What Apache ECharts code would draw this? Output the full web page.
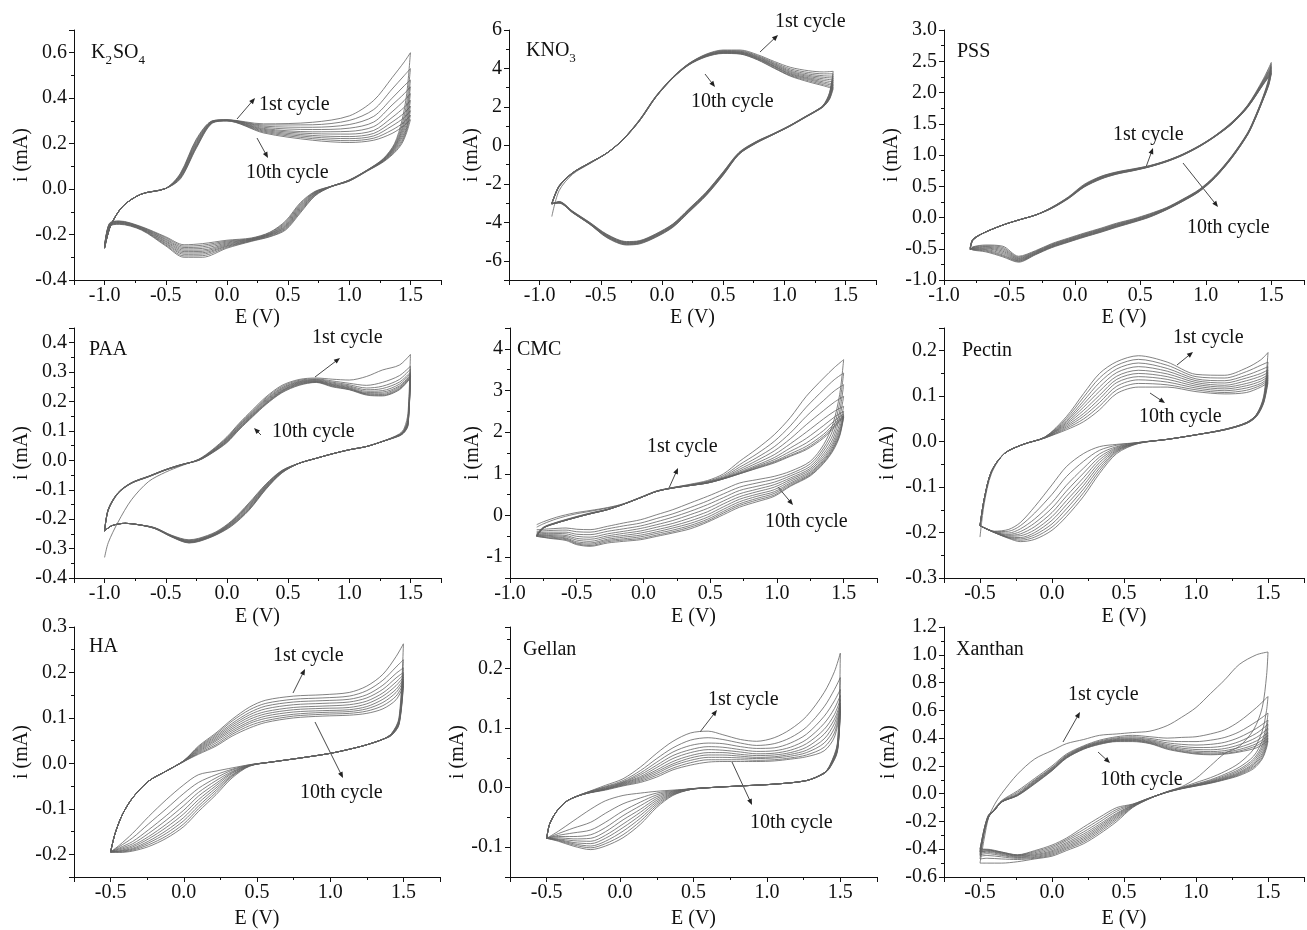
<!DOCTYPE html>
<html>
<head>
<meta charset="utf-8">
<title>CV cycles</title>
<script src="https://cdn.jsdelivr.net/npm/echarts@6/dist/echarts.min.js"></script>
<style>
  html, body { margin: 0; padding: 0; background: #fff; }
  #chart { width: 1307px; height: 930px; }
</style>
</head>
<body>
<div id="chart"></div>
<script>
// potential grids (V) and currents (mA); each row = one potential, 10 values = cycles 1..10

// K2SO4
const k2so4FwdE = [-1.0, -0.95, -0.85, -0.7, -0.5, -0.38, -0.25, -0.12, 0.0, 0.3, 0.7, 1.0, 1.2, 1.35, 1.45, 1.5];
const k2so4FwdI = [
  [-0.26,-0.26,-0.26,-0.26,-0.26,-0.255,-0.255,-0.255,-0.25,-0.25],
  [-0.16,-0.16,-0.16,-0.16,-0.16,-0.16,-0.16,-0.16,-0.16,-0.16],
  [-0.075,-0.075,-0.075,-0.075,-0.075,-0.075,-0.075,-0.075,-0.075,-0.075],
  [-0.022,-0.022,-0.022,-0.022,-0.022,-0.022,-0.022,-0.022,-0.022,-0.022],
  [0.003,0.003,0.003,0.003,0.003,0.003,0.003,0.003,0.003,0.003],
  [0.07,0.067,0.064,0.061,0.058,0.056,0.053,0.05,0.048,0.045],
  [0.22,0.215,0.21,0.205,0.2,0.195,0.19,0.187,0.183,0.18],
  [0.30,0.30,0.298,0.297,0.296,0.295,0.294,0.293,0.291,0.29],
  [0.305,0.305,0.304,0.304,0.303,0.302,0.302,0.301,0.30,0.30],
  [0.287,0.282,0.277,0.272,0.267,0.263,0.259,0.255,0.251,0.247],
  [0.294,0.283,0.272,0.262,0.252,0.244,0.236,0.229,0.222,0.215],
  [0.322,0.302,0.284,0.268,0.254,0.242,0.231,0.222,0.213,0.205],
  [0.39,0.35,0.32,0.295,0.275,0.258,0.245,0.234,0.224,0.215],
  [0.49,0.44,0.40,0.37,0.34,0.315,0.295,0.278,0.26,0.245],
  [0.56,0.50,0.455,0.42,0.39,0.36,0.335,0.315,0.295,0.28],
  [0.60,0.53,0.48,0.45,0.42,0.39,0.365,0.345,0.325,0.305]
];
const k2so4RevE = [1.5, 1.47, 1.43, 1.37, 1.28, 1.15, 1.0, 0.85, 0.72, 0.6, 0.48, 0.35, 0.2, 0.0, -0.2, -0.35, -0.5, -0.7, -0.88, -0.96, -1.0];
const k2so4RevI = [
  [0.60,0.53,0.48,0.45,0.42,0.39,0.365,0.345,0.325,0.305],
  [0.42,0.38,0.35,0.33,0.31,0.295,0.28,0.27,0.26,0.25],
  [0.30,0.28,0.265,0.255,0.245,0.235,0.225,0.215,0.207,0.20],
  [0.20,0.195,0.19,0.186,0.182,0.178,0.174,0.17,0.165,0.16],
  [0.135,0.133,0.131,0.13,0.128,0.126,0.125,0.123,0.122,0.12],
  [0.085,0.085,0.084,0.084,0.083,0.083,0.082,0.082,0.081,0.08],
  [0.04,0.04,0.039,0.039,0.038,0.038,0.037,0.036,0.036,0.035],
  [0.012,0.012,0.012,0.011,0.011,0.011,0.011,0.01,0.01,0.01],
  [-0.01,-0.012,-0.014,-0.016,-0.018,-0.021,-0.023,-0.025,-0.028,-0.03],
  [-0.06,-0.065,-0.07,-0.075,-0.08,-0.085,-0.09,-0.095,-0.1,-0.105],
  [-0.14,-0.145,-0.15,-0.155,-0.16,-0.164,-0.168,-0.172,-0.176,-0.18],
  [-0.19,-0.192,-0.195,-0.197,-0.199,-0.201,-0.203,-0.205,-0.208,-0.21],
  [-0.215,-0.217,-0.219,-0.22,-0.222,-0.223,-0.225,-0.227,-0.228,-0.23],
  [-0.225,-0.229,-0.233,-0.237,-0.241,-0.245,-0.249,-0.252,-0.256,-0.26],
  [-0.24,-0.247,-0.254,-0.261,-0.268,-0.274,-0.28,-0.286,-0.293,-0.30],
  [-0.245,-0.251,-0.257,-0.263,-0.269,-0.275,-0.281,-0.287,-0.294,-0.30],
  [-0.21,-0.214,-0.219,-0.223,-0.228,-0.232,-0.237,-0.241,-0.246,-0.25],
  [-0.165,-0.167,-0.168,-0.17,-0.172,-0.173,-0.175,-0.177,-0.178,-0.18],
  [-0.14,-0.142,-0.143,-0.145,-0.147,-0.148,-0.15,-0.152,-0.153,-0.155],
  [-0.15,-0.152,-0.153,-0.155,-0.157,-0.158,-0.16,-0.162,-0.163,-0.165],
  [-0.25,-0.25,-0.25,-0.255,-0.255,-0.255,-0.255,-0.26,-0.26,-0.26]
];

// KNO3
const kno3FwdE = [-0.9, -0.84, -0.73, -0.59, -0.45, -0.32, -0.18, -0.05, 0.09, 0.22, 0.36, 0.5, 0.64, 0.78, 0.92, 1.05, 1.2, 1.32, 1.4];
const kno3FwdI = [
  [-3.7,-3.05,-3.05,-3.04,-3.04,-3.03,-3.03,-3.02,-3.02,-3.0],
  [-2.35,-2.15,-2.15,-2.13,-2.12,-2.12,-2.11,-2.1,-2.1,-2.1],
  [-1.5,-1.45,-1.45,-1.44,-1.44,-1.43,-1.43,-1.42,-1.42,-1.42],
  [-0.95,-0.93,-0.93,-0.92,-0.92,-0.91,-0.91,-0.9,-0.9,-0.9],
  [-0.4,-0.4,-0.4,-0.4,-0.4,-0.4,-0.4,-0.4,-0.4,-0.4],
  [0.3,0.3,0.3,0.29,0.29,0.29,0.28,0.28,0.28,0.28],
  [1.36,1.35,1.34,1.33,1.33,1.32,1.31,1.31,1.3,1.3],
  [2.56,2.55,2.54,2.53,2.53,2.52,2.51,2.51,2.5,2.5],
  [3.56,3.55,3.54,3.53,3.53,3.52,3.52,3.51,3.5,3.5],
  [4.26,4.25,4.24,4.23,4.22,4.21,4.2,4.2,4.19,4.18],
  [4.74,4.72,4.7,4.68,4.67,4.66,4.64,4.63,4.62,4.6],
  [4.96,4.93,4.9,4.88,4.86,4.84,4.82,4.81,4.8,4.78],
  [4.96,4.92,4.89,4.86,4.84,4.82,4.8,4.78,4.76,4.75],
  [4.72,4.67,4.63,4.6,4.57,4.54,4.52,4.5,4.47,4.45],
  [4.36,4.3,4.25,4.21,4.17,4.13,4.1,4.07,4.03,4.0],
  [4.06,3.98,3.91,3.85,3.8,3.75,3.71,3.67,3.63,3.6],
  [3.88,3.79,3.71,3.64,3.58,3.52,3.47,3.42,3.36,3.3],
  [3.82,3.72,3.62,3.54,3.46,3.38,3.3,3.23,3.16,3.1],
  [3.85,3.72,3.6,3.5,3.4,3.3,3.2,3.12,3.03,2.95]
];
const kno3RevE = [1.4, 1.37, 1.32, 1.25, 1.18, 1.04, 0.9, 0.77, 0.63, 0.5, 0.36, 0.22, 0.09, -0.05, -0.18, -0.29, -0.45, -0.59, -0.73, -0.84, -0.9];
const kno3RevI = [
  [3.85,3.72,3.6,3.5,3.4,3.3,3.2,3.12,3.03,2.95],
  [2.75,2.7,2.65,2.6,2.56,2.52,2.48,2.45,2.42,2.4],
  [2.1,2.09,2.08,2.07,2.06,2.05,2.04,2.03,2.02,2.01],
  [1.78,1.77,1.77,1.76,1.76,1.75,1.75,1.74,1.74,1.73],
  [1.53,1.52,1.52,1.51,1.51,1.5,1.5,1.49,1.49,1.48],
  [1.02,1.01,1.01,1.0,1.0,0.99,0.99,0.98,0.98,0.97],
  [0.58,0.57,0.56,0.56,0.55,0.55,0.54,0.54,0.53,0.53],
  [0.2,0.19,0.18,0.17,0.16,0.15,0.14,0.13,0.12,0.11],
  [-0.36,-0.38,-0.4,-0.41,-0.42,-0.43,-0.44,-0.45,-0.46,-0.47],
  [-1.38,-1.4,-1.42,-1.44,-1.46,-1.48,-1.5,-1.52,-1.54,-1.56],
  [-2.44,-2.46,-2.48,-2.5,-2.52,-2.54,-2.56,-2.58,-2.6,-2.62],
  [-3.3,-3.32,-3.34,-3.36,-3.38,-3.4,-3.42,-3.44,-3.46,-3.48],
  [-4.08,-4.1,-4.12,-4.14,-4.16,-4.18,-4.2,-4.22,-4.24,-4.26],
  [-4.6,-4.62,-4.64,-4.66,-4.68,-4.7,-4.72,-4.74,-4.76,-4.78],
  [-4.95,-4.97,-4.99,-5.0,-5.02,-5.04,-5.06,-5.08,-5.1,-5.12],
  [-5.0,-5.02,-5.04,-5.06,-5.08,-5.1,-5.12,-5.14,-5.16,-5.18],
  [-4.62,-4.64,-4.66,-4.68,-4.7,-4.72,-4.74,-4.76,-4.78,-4.8],
  [-4.0,-4.02,-4.03,-4.05,-4.06,-4.07,-4.08,-4.09,-4.1,-4.1],
  [-3.42,-3.43,-3.44,-3.45,-3.46,-3.47,-3.48,-3.49,-3.5,-3.5],
  [-2.92,-2.93,-2.94,-2.95,-2.96,-2.97,-2.98,-2.99,-3.0,-3.0],
  [-3.05,-3.05,-3.05,-3.04,-3.04,-3.03,-3.03,-3.02,-3.02,-3.0]
];

// PSS
const pssFwdE = [-0.8, -0.78, -0.7, -0.55, -0.43, -0.3, -0.18, -0.05, 0.07, 0.2, 0.32, 0.45, 0.57, 0.7, 0.82, 0.95, 1.07, 1.2, 1.32, 1.44, 1.5];
const pssFwdI = [
  [-0.52,-0.52,-0.51,-0.51,-0.5,-0.5,-0.5,-0.49,-0.49,-0.49],
  [-0.37,-0.37,-0.36,-0.36,-0.36,-0.36,-0.35,-0.35,-0.35,-0.35],
  [-0.25,-0.25,-0.25,-0.25,-0.25,-0.25,-0.25,-0.25,-0.25,-0.25],
  [-0.12,-0.12,-0.12,-0.12,-0.12,-0.12,-0.12,-0.12,-0.12,-0.12],
  [-0.04,-0.04,-0.04,-0.04,-0.04,-0.04,-0.04,-0.04,-0.04,-0.04],
  [0.04,0.04,0.04,0.04,0.04,0.04,0.04,0.04,0.04,0.04],
  [0.16,0.16,0.155,0.155,0.15,0.15,0.148,0.146,0.144,0.142],
  [0.33,0.325,0.32,0.318,0.315,0.312,0.31,0.308,0.305,0.3],
  [0.53,0.52,0.515,0.51,0.505,0.5,0.497,0.494,0.49,0.485],
  [0.66,0.655,0.65,0.645,0.64,0.635,0.63,0.625,0.62,0.615],
  [0.73,0.725,0.72,0.716,0.712,0.708,0.704,0.7,0.697,0.694],
  [0.78,0.776,0.772,0.768,0.765,0.762,0.759,0.756,0.753,0.75],
  [0.83,0.827,0.824,0.821,0.819,0.817,0.815,0.813,0.811,0.81],
  [0.91,0.908,0.906,0.904,0.902,0.9,0.898,0.896,0.894,0.892],
  [1.01,1.008,1.006,1.004,1.002,1.0,0.998,0.996,0.994,0.992],
  [1.15,1.148,1.146,1.144,1.142,1.14,1.138,1.136,1.134,1.132],
  [1.31,1.308,1.306,1.304,1.302,1.3,1.298,1.296,1.294,1.292],
  [1.53,1.525,1.52,1.516,1.512,1.508,1.505,1.502,1.5,1.498],
  [1.8,1.795,1.79,1.785,1.78,1.776,1.772,1.768,1.765,1.762],
  [2.22,2.2,2.19,2.18,2.17,2.16,2.15,2.14,2.135,2.13],
  [2.48,2.45,2.42,2.4,2.38,2.36,2.34,2.33,2.31,2.3]
];
const pssRevE = [1.5, 1.48, 1.44, 1.38, 1.32, 1.2, 1.07, 0.95, 0.82, 0.7, 0.57, 0.45, 0.32, 0.2, 0.07, -0.05, -0.18, -0.3, -0.43, -0.55, -0.68, -0.78, -0.8];
const pssRevI = [
  [2.48,2.45,2.42,2.4,2.38,2.36,2.34,2.33,2.31,2.3],
  [2.22,2.2,2.18,2.17,2.16,2.15,2.14,2.13,2.12,2.11],
  [1.95,1.94,1.93,1.925,1.92,1.915,1.91,1.905,1.9,1.895],
  [1.63,1.625,1.62,1.615,1.61,1.605,1.6,1.597,1.594,1.59],
  [1.36,1.355,1.35,1.346,1.342,1.338,1.334,1.33,1.327,1.324],
  [0.99,0.985,0.98,0.976,0.972,0.968,0.964,0.96,0.957,0.954],
  [0.67,0.665,0.66,0.656,0.652,0.648,0.644,0.64,0.637,0.634],
  [0.45,0.445,0.44,0.436,0.432,0.428,0.424,0.42,0.417,0.414],
  [0.29,0.285,0.28,0.276,0.272,0.268,0.264,0.26,0.257,0.254],
  [0.16,0.155,0.15,0.146,0.142,0.138,0.134,0.13,0.127,0.124],
  [0.06,0.052,0.045,0.038,0.032,0.026,0.02,0.015,0.01,0.005],
  [-0.02,-0.028,-0.035,-0.042,-0.048,-0.054,-0.06,-0.065,-0.07,-0.075],
  [-0.09,-0.1,-0.108,-0.116,-0.123,-0.13,-0.137,-0.143,-0.149,-0.155],
  [-0.17,-0.18,-0.188,-0.196,-0.203,-0.21,-0.217,-0.223,-0.229,-0.235],
  [-0.25,-0.26,-0.268,-0.276,-0.283,-0.29,-0.297,-0.303,-0.309,-0.315],
  [-0.33,-0.34,-0.348,-0.356,-0.363,-0.37,-0.377,-0.383,-0.389,-0.395],
  [-0.42,-0.43,-0.438,-0.446,-0.453,-0.46,-0.467,-0.473,-0.479,-0.485],
  [-0.53,-0.54,-0.548,-0.556,-0.563,-0.57,-0.577,-0.583,-0.589,-0.595],
  [-0.62,-0.633,-0.645,-0.656,-0.666,-0.676,-0.686,-0.695,-0.704,-0.715],
  [-0.46,-0.48,-0.5,-0.52,-0.54,-0.56,-0.58,-0.6,-0.615,-0.63],
  [-0.44,-0.452,-0.464,-0.476,-0.488,-0.5,-0.512,-0.524,-0.537,-0.55],
  [-0.47,-0.476,-0.482,-0.488,-0.494,-0.5,-0.505,-0.51,-0.515,-0.52],
  [-0.52,-0.52,-0.51,-0.51,-0.5,-0.5,-0.5,-0.49,-0.49,-0.49]
];

// PAA
const paaFwdE = [-1.0, -0.97, -0.89, -0.78, -0.64, -0.5, -0.37, -0.23, -0.12, 0.0, 0.1, 0.21, 0.32, 0.45, 0.59, 0.73, 0.86, 1.0, 1.14, 1.27, 1.41, 1.5];
const paaFwdI = [
  [-0.33,-0.24,-0.24,-0.24,-0.24,-0.24,-0.24,-0.24,-0.24,-0.24],
  [-0.28,-0.17,-0.17,-0.168,-0.168,-0.168,-0.168,-0.166,-0.166,-0.166],
  [-0.21,-0.113,-0.112,-0.112,-0.111,-0.111,-0.111,-0.11,-0.11,-0.11],
  [-0.134,-0.078,-0.078,-0.077,-0.077,-0.077,-0.077,-0.076,-0.076,-0.076],
  [-0.072,-0.056,-0.056,-0.055,-0.055,-0.055,-0.055,-0.054,-0.054,-0.054],
  [-0.04,-0.033,-0.033,-0.032,-0.032,-0.032,-0.032,-0.031,-0.031,-0.031],
  [-0.018,-0.016,-0.016,-0.015,-0.015,-0.015,-0.015,-0.014,-0.014,-0.014],
  [0.004,0.003,0.003,0.002,0.002,0.002,0.001,0.001,0.0,0.0],
  [0.036,0.034,0.033,0.031,0.03,0.029,0.028,0.027,0.026,0.025],
  [0.08,0.077,0.075,0.072,0.07,0.068,0.066,0.064,0.062,0.06],
  [0.126,0.123,0.12,0.117,0.115,0.112,0.11,0.108,0.106,0.104],
  [0.172,0.168,0.165,0.162,0.159,0.156,0.154,0.152,0.15,0.148],
  [0.216,0.212,0.208,0.205,0.202,0.199,0.196,0.194,0.192,0.19],
  [0.255,0.251,0.247,0.244,0.241,0.238,0.236,0.234,0.232,0.23],
  [0.275,0.272,0.269,0.267,0.265,0.263,0.261,0.259,0.257,0.255],
  [0.28,0.277,0.275,0.273,0.271,0.27,0.268,0.267,0.266,0.265],
  [0.276,0.27,0.266,0.263,0.26,0.258,0.256,0.254,0.252,0.25],
  [0.273,0.262,0.257,0.253,0.25,0.247,0.245,0.243,0.241,0.24],
  [0.285,0.255,0.246,0.24,0.235,0.231,0.228,0.226,0.224,0.222],
  [0.307,0.265,0.252,0.244,0.237,0.232,0.228,0.224,0.221,0.219],
  [0.324,0.288,0.275,0.266,0.259,0.253,0.249,0.245,0.242,0.24],
  [0.36,0.32,0.31,0.30,0.295,0.29,0.287,0.284,0.282,0.28]
];
const paaRevE = [1.5, 1.48, 1.45, 1.41, 1.27, 1.14, 1.0, 0.86, 0.73, 0.59, 0.45, 0.32, 0.18, 0.04, -0.09, -0.23, -0.31, -0.45, -0.59, -0.72, -0.83, -0.94, -1.0];
const paaRevI = [
  [0.36,0.32,0.31,0.30,0.295,0.29,0.287,0.284,0.282,0.28],
  [0.16,0.145,0.14,0.135,0.13,0.128,0.125,0.122,0.12,0.118],
  [0.11,0.105,0.103,0.101,0.1,0.099,0.098,0.097,0.096,0.095],
  [0.09,0.088,0.087,0.086,0.086,0.085,0.085,0.084,0.084,0.083],
  [0.064,0.064,0.064,0.064,0.064,0.064,0.064,0.064,0.064,0.064],
  [0.047,0.047,0.047,0.047,0.047,0.047,0.047,0.047,0.047,0.047],
  [0.036,0.036,0.036,0.036,0.036,0.036,0.036,0.036,0.036,0.036],
  [0.022,0.022,0.022,0.022,0.022,0.022,0.022,0.022,0.022,0.022],
  [0.007,0.007,0.007,0.007,0.007,0.007,0.007,0.007,0.007,0.007],
  [-0.01,-0.01,-0.01,-0.01,-0.01,-0.01,-0.01,-0.01,-0.01,-0.01],
  [-0.034,-0.035,-0.036,-0.037,-0.038,-0.039,-0.04,-0.041,-0.042,-0.043],
  [-0.08,-0.082,-0.084,-0.086,-0.088,-0.09,-0.092,-0.094,-0.096,-0.098],
  [-0.145,-0.148,-0.151,-0.154,-0.157,-0.16,-0.163,-0.166,-0.168,-0.17],
  [-0.205,-0.207,-0.209,-0.211,-0.213,-0.215,-0.217,-0.219,-0.221,-0.223],
  [-0.243,-0.245,-0.247,-0.248,-0.249,-0.25,-0.251,-0.252,-0.253,-0.254],
  [-0.265,-0.267,-0.268,-0.27,-0.271,-0.272,-0.273,-0.274,-0.275,-0.276],
  [-0.27,-0.272,-0.273,-0.275,-0.276,-0.277,-0.278,-0.279,-0.28,-0.281],
  [-0.255,-0.256,-0.257,-0.258,-0.258,-0.259,-0.259,-0.26,-0.26,-0.261],
  [-0.229,-0.229,-0.23,-0.23,-0.23,-0.231,-0.231,-0.231,-0.232,-0.232],
  [-0.219,-0.219,-0.219,-0.219,-0.219,-0.219,-0.219,-0.219,-0.219,-0.219],
  [-0.214,-0.214,-0.214,-0.214,-0.214,-0.214,-0.214,-0.214,-0.214,-0.214],
  [-0.222,-0.222,-0.222,-0.222,-0.222,-0.222,-0.222,-0.222,-0.222,-0.222],
  [-0.24,-0.24,-0.24,-0.24,-0.24,-0.24,-0.24,-0.24,-0.24,-0.24]
];

// CMC
const cmcFwdE = [-0.8, -0.75, -0.65, -0.52, -0.4, -0.27, -0.15, -0.02, 0.1, 0.22, 0.35, 0.48, 0.6, 0.72, 0.85, 0.98, 1.1, 1.22, 1.35, 1.43, 1.5];
const cmcFwdI = [
  [-0.22,-0.28,-0.45,-0.47,-0.48,-0.49,-0.5,-0.5,-0.5,-0.5],
  [-0.15,-0.2,-0.28,-0.29,-0.29,-0.3,-0.3,-0.3,-0.3,-0.3],
  [-0.04,-0.08,-0.16,-0.17,-0.17,-0.18,-0.18,-0.18,-0.18,-0.18],
  [0.06,0.03,-0.04,-0.05,-0.05,-0.06,-0.06,-0.06,-0.06,-0.06],
  [0.12,0.1,0.06,0.05,0.05,0.04,0.04,0.04,0.04,0.04],
  [0.19,0.18,0.15,0.15,0.14,0.14,0.14,0.14,0.14,0.14],
  [0.28,0.28,0.27,0.27,0.27,0.27,0.27,0.27,0.27,0.27],
  [0.44,0.44,0.43,0.43,0.43,0.43,0.43,0.43,0.43,0.43],
  [0.59,0.59,0.58,0.58,0.58,0.58,0.58,0.58,0.58,0.58],
  [0.67,0.67,0.67,0.66,0.66,0.66,0.66,0.66,0.66,0.66],
  [0.75,0.74,0.73,0.73,0.72,0.72,0.72,0.72,0.72,0.72],
  [0.84,0.82,0.81,0.8,0.79,0.79,0.78,0.78,0.78,0.78],
  [1.0,0.96,0.93,0.91,0.9,0.89,0.89,0.88,0.88,0.88],
  [1.3,1.22,1.16,1.11,1.07,1.04,1.02,1.01,1.0,1.0],
  [1.6,1.48,1.39,1.32,1.26,1.21,1.18,1.16,1.14,1.13],
  [1.94,1.78,1.65,1.55,1.46,1.39,1.34,1.3,1.28,1.26],
  [2.35,2.15,1.98,1.84,1.72,1.62,1.54,1.48,1.44,1.42],
  [2.86,2.6,2.38,2.18,2.0,1.85,1.74,1.66,1.61,1.58],
  [3.3,3.02,2.76,2.52,2.32,2.16,2.04,1.95,1.9,1.86],
  [3.55,3.26,2.99,2.72,2.5,2.36,2.27,2.2,2.15,2.12],
  [3.74,3.42,3.14,2.86,2.62,2.5,2.44,2.4,2.38,2.35]
];
const cmcRevE = [1.5, 1.47, 1.42, 1.35, 1.25, 1.1, 0.98, 0.85, 0.72, 0.6, 0.48, 0.35, 0.22, 0.1, -0.02, -0.15, -0.27, -0.4, -0.5, -0.58, -0.7, -0.8];
const cmcRevI = [
  [3.74,3.42,3.14,2.86,2.62,2.5,2.44,2.4,2.38,2.35],
  [2.9,2.7,2.5,2.35,2.2,2.1,2.03,1.97,1.93,1.9],
  [2.2,2.06,1.94,1.84,1.76,1.7,1.65,1.61,1.58,1.55],
  [1.7,1.62,1.55,1.48,1.42,1.37,1.33,1.3,1.27,1.25],
  [1.3,1.24,1.18,1.13,1.09,1.05,1.02,0.99,0.97,0.95],
  [1.06,1.0,0.95,0.9,0.86,0.82,0.78,0.75,0.72,0.7],
  [0.94,0.87,0.8,0.74,0.68,0.62,0.57,0.53,0.49,0.46],
  [0.86,0.78,0.7,0.63,0.57,0.51,0.46,0.41,0.37,0.33],
  [0.78,0.68,0.6,0.52,0.45,0.39,0.33,0.28,0.24,0.2],
  [0.62,0.52,0.43,0.35,0.28,0.21,0.15,0.1,0.06,0.02],
  [0.46,0.35,0.26,0.17,0.09,0.02,-0.04,-0.09,-0.13,-0.16],
  [0.3,0.19,0.1,0.02,-0.06,-0.13,-0.19,-0.24,-0.28,-0.32],
  [0.14,0.04,-0.04,-0.12,-0.19,-0.25,-0.3,-0.35,-0.39,-0.42],
  [0.02,-0.07,-0.15,-0.22,-0.28,-0.34,-0.39,-0.43,-0.47,-0.5],
  [-0.1,-0.18,-0.25,-0.31,-0.37,-0.42,-0.47,-0.51,-0.55,-0.58],
  [-0.18,-0.25,-0.32,-0.38,-0.43,-0.48,-0.52,-0.56,-0.59,-0.62],
  [-0.26,-0.32,-0.38,-0.44,-0.49,-0.53,-0.57,-0.6,-0.63,-0.66],
  [-0.34,-0.4,-0.46,-0.52,-0.57,-0.62,-0.66,-0.69,-0.72,-0.74],
  [-0.33,-0.39,-0.45,-0.5,-0.55,-0.59,-0.63,-0.66,-0.68,-0.7],
  [-0.3,-0.35,-0.4,-0.44,-0.48,-0.51,-0.54,-0.56,-0.58,-0.6],
  [-0.32,-0.36,-0.4,-0.43,-0.46,-0.48,-0.5,-0.52,-0.54,-0.55],
  [-0.34,-0.38,-0.41,-0.44,-0.46,-0.47,-0.48,-0.49,-0.5,-0.5]
];

// Pectin
const pectinFwdE = [-0.5, -0.47, -0.42, -0.33, -0.2, -0.05, 0.1, 0.22, 0.33, 0.45, 0.6, 0.8, 1.0, 1.2, 1.35, 1.45, 1.5];
const pectinFwdI = [
  [-0.21,-0.185,-0.185,-0.185,-0.185,-0.185,-0.185,-0.185,-0.185,-0.185],
  [-0.135,-0.125,-0.125,-0.125,-0.125,-0.125,-0.125,-0.125,-0.125,-0.125],
  [-0.07,-0.066,-0.066,-0.065,-0.065,-0.065,-0.065,-0.065,-0.065,-0.065],
  [-0.026,-0.026,-0.026,-0.026,-0.026,-0.026,-0.026,-0.026,-0.026,-0.026],
  [-0.006,-0.006,-0.006,-0.006,-0.006,-0.006,-0.006,-0.006,-0.006,-0.006],
  [0.01,0.01,0.01,0.009,0.009,0.009,0.009,0.008,0.008,0.008],
  [0.055,0.051,0.047,0.044,0.041,0.038,0.035,0.032,0.029,0.026],
  [0.106,0.098,0.09,0.083,0.076,0.069,0.062,0.056,0.05,0.044],
  [0.15,0.14,0.13,0.12,0.111,0.102,0.094,0.086,0.078,0.07],
  [0.176,0.168,0.16,0.152,0.144,0.137,0.13,0.122,0.114,0.106],
  [0.189,0.181,0.173,0.165,0.157,0.15,0.143,0.136,0.128,0.12],
  [0.175,0.168,0.161,0.155,0.149,0.143,0.137,0.131,0.125,0.12],
  [0.148,0.143,0.138,0.134,0.13,0.126,0.122,0.118,0.114,0.11],
  [0.146,0.14,0.134,0.129,0.124,0.12,0.116,0.112,0.108,0.105],
  [0.162,0.154,0.146,0.14,0.134,0.128,0.123,0.118,0.113,0.108],
  [0.18,0.168,0.158,0.15,0.144,0.138,0.133,0.128,0.124,0.12],
  [0.196,0.175,0.165,0.158,0.152,0.147,0.143,0.139,0.135,0.13]
];
const pectinRevE = [1.5, 1.47, 1.42, 1.35, 1.2, 1.0, 0.8, 0.6, 0.45, 0.33, 0.22, 0.1, 0.0, -0.12, -0.22, -0.3, -0.4, -0.5];
const pectinRevI = [
  [0.196,0.175,0.165,0.158,0.152,0.147,0.143,0.139,0.135,0.13],
  [0.10,0.097,0.095,0.093,0.091,0.09,0.089,0.088,0.086,0.085],
  [0.06,0.06,0.059,0.059,0.058,0.058,0.057,0.056,0.056,0.055],
  [0.042,0.042,0.042,0.041,0.041,0.041,0.041,0.04,0.04,0.04],
  [0.027,0.027,0.027,0.027,0.027,0.026,0.026,0.026,0.026,0.026],
  [0.015,0.015,0.015,0.015,0.015,0.015,0.015,0.015,0.015,0.015],
  [0.005,0.005,0.005,0.005,0.005,0.005,0.005,0.005,0.005,0.005],
  [-0.004,-0.004,-0.003,-0.003,-0.003,-0.003,-0.002,-0.002,-0.002,-0.002],
  [-0.026,-0.023,-0.021,-0.019,-0.017,-0.015,-0.013,-0.011,-0.008,-0.006],
  [-0.07,-0.064,-0.058,-0.052,-0.046,-0.04,-0.034,-0.027,-0.019,-0.011],
  [-0.12,-0.112,-0.104,-0.096,-0.088,-0.079,-0.069,-0.058,-0.043,-0.026],
  [-0.165,-0.157,-0.148,-0.139,-0.13,-0.12,-0.109,-0.096,-0.077,-0.055],
  [-0.195,-0.188,-0.181,-0.173,-0.165,-0.156,-0.146,-0.134,-0.116,-0.095],
  [-0.215,-0.21,-0.205,-0.2,-0.194,-0.187,-0.179,-0.17,-0.157,-0.143],
  [-0.22,-0.217,-0.214,-0.211,-0.207,-0.203,-0.198,-0.192,-0.185,-0.178],
  [-0.213,-0.212,-0.211,-0.21,-0.208,-0.206,-0.204,-0.201,-0.197,-0.193],
  [-0.2,-0.2,-0.2,-0.2,-0.199,-0.199,-0.199,-0.198,-0.198,-0.197],
  [-0.185,-0.185,-0.185,-0.185,-0.185,-0.185,-0.185,-0.185,-0.185,-0.185]
];

// HA
const haFwdE = [-0.5, -0.47, -0.42, -0.35, -0.24, -0.12, 0.0, 0.1, 0.22, 0.33, 0.45, 0.56, 0.75, 0.95, 1.13, 1.25, 1.36, 1.45, 1.5];
const haFwdI = [
  [-0.195,-0.195,-0.195,-0.195,-0.195,-0.195,-0.195,-0.195,-0.195,-0.195],
  [-0.155,-0.155,-0.155,-0.155,-0.155,-0.155,-0.155,-0.155,-0.155,-0.155],
  [-0.113,-0.113,-0.113,-0.113,-0.113,-0.113,-0.113,-0.113,-0.113,-0.113],
  [-0.076,-0.076,-0.076,-0.076,-0.076,-0.076,-0.076,-0.076,-0.076,-0.076],
  [-0.039,-0.039,-0.039,-0.039,-0.039,-0.039,-0.039,-0.039,-0.039,-0.039],
  [-0.017,-0.017,-0.017,-0.017,-0.017,-0.017,-0.017,-0.017,-0.017,-0.017],
  [0.006,0.006,0.006,0.005,0.005,0.005,0.005,0.004,0.004,0.004],
  [0.038,0.036,0.034,0.032,0.03,0.028,0.026,0.024,0.022,0.02],
  [0.067,0.064,0.061,0.058,0.055,0.052,0.049,0.045,0.041,0.038],
  [0.097,0.093,0.088,0.084,0.08,0.076,0.072,0.068,0.064,0.06],
  [0.124,0.118,0.112,0.107,0.102,0.097,0.092,0.088,0.083,0.078],
  [0.139,0.132,0.126,0.12,0.114,0.109,0.104,0.099,0.094,0.09],
  [0.148,0.141,0.135,0.129,0.123,0.118,0.113,0.108,0.104,0.1],
  [0.151,0.144,0.138,0.132,0.126,0.121,0.116,0.112,0.108,0.104],
  [0.156,0.148,0.141,0.135,0.129,0.123,0.118,0.114,0.11,0.106],
  [0.17,0.16,0.151,0.144,0.137,0.131,0.125,0.12,0.115,0.11],
  [0.196,0.183,0.172,0.163,0.155,0.148,0.141,0.134,0.127,0.12],
  [0.235,0.212,0.198,0.188,0.179,0.171,0.163,0.156,0.148,0.14],
  [0.263,0.228,0.21,0.2,0.195,0.19,0.185,0.18,0.175,0.17]
];
const haRevE = [1.5, 1.47, 1.42, 1.36, 1.24, 1.13, 1.0, 0.8, 0.6, 0.45, 0.33, 0.22, 0.1, 0.0, -0.12, -0.24, -0.35, -0.44, -0.5];
const haRevI = [
  [0.263,0.228,0.21,0.2,0.195,0.19,0.185,0.18,0.175,0.17],
  [0.1,0.097,0.095,0.093,0.091,0.09,0.089,0.088,0.086,0.085],
  [0.066,0.066,0.065,0.065,0.064,0.064,0.063,0.063,0.062,0.062],
  [0.053,0.053,0.053,0.053,0.053,0.053,0.053,0.053,0.053,0.053],
  [0.04,0.04,0.04,0.04,0.04,0.04,0.04,0.04,0.04,0.04],
  [0.031,0.031,0.031,0.031,0.031,0.031,0.031,0.031,0.031,0.031],
  [0.022,0.022,0.022,0.022,0.022,0.022,0.022,0.022,0.022,0.022],
  [0.012,0.012,0.012,0.012,0.012,0.012,0.012,0.012,0.012,0.012],
  [0.003,0.003,0.003,0.003,0.003,0.003,0.003,0.003,0.003,0.003],
  [-0.006,-0.006,-0.005,-0.005,-0.005,-0.004,-0.004,-0.004,-0.003,-0.003],
  [-0.032,-0.029,-0.027,-0.025,-0.022,-0.02,-0.018,-0.015,-0.013,-0.01],
  [-0.069,-0.064,-0.059,-0.054,-0.049,-0.044,-0.038,-0.032,-0.025,-0.017],
  [-0.106,-0.1,-0.094,-0.087,-0.08,-0.072,-0.064,-0.055,-0.042,-0.025],
  [-0.139,-0.133,-0.126,-0.119,-0.111,-0.103,-0.093,-0.082,-0.066,-0.047],
  [-0.165,-0.16,-0.154,-0.148,-0.141,-0.134,-0.125,-0.115,-0.1,-0.08],
  [-0.183,-0.179,-0.175,-0.171,-0.166,-0.161,-0.154,-0.146,-0.133,-0.117],
  [-0.193,-0.191,-0.189,-0.187,-0.184,-0.181,-0.177,-0.172,-0.164,-0.154],
  [-0.196,-0.195,-0.194,-0.193,-0.192,-0.19,-0.188,-0.186,-0.183,-0.18],
  [-0.195,-0.195,-0.195,-0.195,-0.195,-0.195,-0.195,-0.195,-0.195,-0.195]
];

// Gellan
const gellanFwdE = [-0.5, -0.48, -0.43, -0.36, -0.25, -0.1, 0.02, 0.14, 0.25, 0.36, 0.48, 0.6, 0.7, 0.82, 0.93, 1.05, 1.16, 1.27, 1.39, 1.46, 1.5];
const gellanFwdI = [
  [-0.085,-0.085,-0.085,-0.085,-0.085,-0.085,-0.085,-0.085,-0.085,-0.085],
  [-0.061,-0.061,-0.061,-0.061,-0.061,-0.061,-0.061,-0.061,-0.061,-0.061],
  [-0.039,-0.039,-0.039,-0.039,-0.039,-0.039,-0.039,-0.039,-0.039,-0.039],
  [-0.022,-0.022,-0.022,-0.022,-0.022,-0.022,-0.022,-0.022,-0.022,-0.022],
  [-0.01,-0.01,-0.01,-0.01,-0.011,-0.011,-0.011,-0.011,-0.011,-0.011],
  [0.004,0.002,0.001,0.0,-0.001,-0.002,-0.002,-0.003,-0.003,-0.004],
  [0.015,0.012,0.01,0.009,0.008,0.007,0.006,0.005,0.004,0.003],
  [0.035,0.029,0.025,0.022,0.019,0.017,0.015,0.013,0.011,0.009],
  [0.058,0.049,0.043,0.038,0.034,0.03,0.027,0.024,0.021,0.018],
  [0.078,0.067,0.06,0.054,0.049,0.044,0.04,0.037,0.033,0.03],
  [0.092,0.08,0.071,0.064,0.059,0.054,0.05,0.046,0.042,0.038],
  [0.095,0.084,0.075,0.069,0.064,0.059,0.055,0.051,0.047,0.043],
  [0.089,0.081,0.074,0.068,0.063,0.059,0.055,0.051,0.047,0.044],
  [0.081,0.075,0.069,0.064,0.06,0.056,0.053,0.05,0.047,0.044],
  [0.078,0.071,0.066,0.061,0.057,0.054,0.051,0.049,0.046,0.044],
  [0.084,0.074,0.067,0.062,0.058,0.055,0.052,0.05,0.047,0.045],
  [0.098,0.084,0.075,0.068,0.063,0.059,0.056,0.053,0.05,0.048],
  [0.12,0.102,0.09,0.081,0.074,0.068,0.063,0.059,0.055,0.052],
  [0.16,0.136,0.12,0.108,0.098,0.09,0.082,0.075,0.068,0.062],
  [0.195,0.165,0.146,0.133,0.123,0.115,0.108,0.1,0.092,0.085],
  [0.226,0.185,0.165,0.155,0.148,0.142,0.138,0.135,0.132,0.13]
];
const gellanRevE = [1.5, 1.48, 1.43, 1.39, 1.27, 1.05, 0.82, 0.6, 0.48, 0.36, 0.25, 0.14, 0.02, -0.1, -0.2, -0.32, -0.42, -0.5];
const gellanRevI = [
  [0.226,0.185,0.165,0.155,0.148,0.142,0.138,0.135,0.132,0.13],
  [0.075,0.072,0.07,0.068,0.066,0.065,0.064,0.063,0.062,0.06],
  [0.038,0.038,0.037,0.037,0.036,0.036,0.035,0.035,0.034,0.034],
  [0.025,0.025,0.025,0.025,0.025,0.024,0.024,0.024,0.024,0.024],
  [0.012,0.012,0.012,0.012,0.012,0.012,0.012,0.012,0.012,0.012],
  [0.006,0.006,0.006,0.006,0.006,0.006,0.006,0.006,0.006,0.006],
  [0.003,0.003,0.003,0.003,0.003,0.003,0.003,0.003,0.003,0.003],
  [0.0,0.0,0.0,0.0,0.0,0.0,0.0,0.0,0.0,0.0],
  [-0.003,-0.003,-0.003,-0.003,-0.002,-0.002,-0.002,-0.002,-0.002,-0.002],
  [-0.013,-0.012,-0.011,-0.01,-0.009,-0.008,-0.007,-0.006,-0.005,-0.004],
  [-0.033,-0.03,-0.027,-0.024,-0.021,-0.018,-0.015,-0.012,-0.009,-0.006],
  [-0.061,-0.056,-0.051,-0.046,-0.041,-0.036,-0.03,-0.024,-0.017,-0.009],
  [-0.084,-0.079,-0.073,-0.067,-0.061,-0.054,-0.047,-0.039,-0.027,-0.013],
  [-0.098,-0.094,-0.09,-0.085,-0.08,-0.074,-0.067,-0.058,-0.043,-0.022],
  [-0.104,-0.101,-0.098,-0.094,-0.09,-0.085,-0.079,-0.071,-0.058,-0.036],
  [-0.098,-0.096,-0.094,-0.092,-0.089,-0.086,-0.082,-0.076,-0.068,-0.056],
  [-0.09,-0.089,-0.088,-0.087,-0.086,-0.084,-0.082,-0.08,-0.077,-0.073],
  [-0.085,-0.085,-0.085,-0.085,-0.085,-0.085,-0.085,-0.085,-0.085,-0.085]
];

// Xanthan
const xanFwdE = [-0.5, -0.47, -0.44, -0.4, -0.35, -0.24, -0.12, 0.0, 0.1, 0.22, 0.33, 0.45, 0.56, 0.68, 0.8, 0.9, 1.0, 1.1, 1.2, 1.3, 1.42, 1.5];
const xanFwdI = [
  [-0.5,-0.47,-0.45,-0.44,-0.43,-0.42,-0.42,-0.41,-0.4,-0.4],
  [-0.32,-0.28,-0.27,-0.27,-0.26,-0.26,-0.26,-0.25,-0.25,-0.25],
  [-0.17,-0.17,-0.17,-0.165,-0.165,-0.16,-0.16,-0.155,-0.155,-0.15],
  [-0.08,-0.11,-0.115,-0.115,-0.12,-0.12,-0.12,-0.12,-0.12,-0.12],
  [0.0,-0.05,-0.055,-0.055,-0.06,-0.06,-0.06,-0.06,-0.06,-0.06],
  [0.14,0.02,0.01,0.0,-0.005,-0.01,-0.01,-0.012,-0.014,-0.015],
  [0.25,0.11,0.1,0.095,0.09,0.085,0.08,0.077,0.073,0.07],
  [0.31,0.2,0.19,0.185,0.18,0.176,0.173,0.17,0.167,0.165],
  [0.36,0.285,0.278,0.273,0.269,0.265,0.262,0.26,0.257,0.255],
  [0.39,0.345,0.34,0.336,0.333,0.33,0.327,0.325,0.322,0.32],
  [0.42,0.385,0.378,0.373,0.369,0.366,0.363,0.36,0.357,0.355],
  [0.43,0.41,0.402,0.396,0.391,0.387,0.384,0.381,0.378,0.375],
  [0.44,0.42,0.41,0.402,0.396,0.391,0.387,0.383,0.379,0.375],
  [0.45,0.41,0.398,0.389,0.382,0.376,0.371,0.367,0.363,0.36],
  [0.49,0.4,0.38,0.366,0.355,0.346,0.338,0.331,0.325,0.32],
  [0.55,0.405,0.375,0.355,0.34,0.328,0.318,0.31,0.304,0.3],
  [0.62,0.41,0.375,0.35,0.332,0.318,0.306,0.297,0.29,0.285],
  [0.72,0.43,0.385,0.355,0.333,0.316,0.303,0.293,0.285,0.28],
  [0.82,0.46,0.405,0.37,0.345,0.325,0.31,0.298,0.29,0.285],
  [0.93,0.52,0.445,0.405,0.375,0.352,0.333,0.318,0.307,0.3],
  [1.0,0.62,0.52,0.47,0.435,0.405,0.38,0.36,0.345,0.33],
  [1.02,0.7,0.58,0.53,0.5,0.47,0.44,0.42,0.4,0.38]
];
const xanRevE = [1.5, 1.49, 1.46, 1.4, 1.3, 1.2, 1.1, 1.0, 0.9, 0.8, 0.68, 0.56, 0.45, 0.33, 0.22, 0.1, 0.0, -0.12, -0.24, -0.35, -0.45, -0.5];
const xanRevI = [
  [1.02,0.7,0.58,0.53,0.5,0.47,0.44,0.42,0.4,0.38],
  [0.85,0.6,0.5,0.46,0.43,0.405,0.38,0.36,0.345,0.33],
  [0.62,0.45,0.38,0.35,0.33,0.31,0.29,0.275,0.26,0.25],
  [0.46,0.32,0.27,0.25,0.235,0.22,0.21,0.2,0.19,0.18],
  [0.34,0.22,0.19,0.175,0.165,0.155,0.148,0.142,0.136,0.13],
  [0.29,0.16,0.14,0.13,0.122,0.116,0.111,0.107,0.103,0.1],
  [0.2,0.115,0.1,0.094,0.089,0.085,0.082,0.079,0.077,0.075],
  [0.11,0.08,0.07,0.067,0.064,0.062,0.06,0.058,0.056,0.055],
  [0.05,0.045,0.042,0.041,0.04,0.039,0.038,0.037,0.036,0.035],
  [0.015,0.014,0.013,0.013,0.012,0.012,0.011,0.011,0.01,0.01],
  [-0.035,-0.034,-0.033,-0.033,-0.032,-0.032,-0.031,-0.031,-0.03,-0.03],
  [-0.1,-0.097,-0.094,-0.091,-0.088,-0.085,-0.083,-0.08,-0.077,-0.075],
  [-0.2,-0.187,-0.176,-0.166,-0.157,-0.148,-0.14,-0.126,-0.113,-0.1],
  [-0.29,-0.277,-0.265,-0.254,-0.243,-0.232,-0.22,-0.205,-0.188,-0.17],
  [-0.36,-0.348,-0.337,-0.326,-0.315,-0.303,-0.29,-0.275,-0.258,-0.24],
  [-0.41,-0.4,-0.391,-0.382,-0.372,-0.362,-0.352,-0.34,-0.33,-0.32],
  [-0.45,-0.442,-0.434,-0.426,-0.418,-0.41,-0.4,-0.39,-0.38,-0.37],
  [-0.47,-0.465,-0.459,-0.453,-0.446,-0.44,-0.433,-0.425,-0.417,-0.41],
  [-0.49,-0.474,-0.466,-0.46,-0.455,-0.45,-0.447,-0.444,-0.442,-0.44],
  [-0.5,-0.47,-0.455,-0.445,-0.438,-0.432,-0.428,-0.424,-0.421,-0.42],
  [-0.5,-0.465,-0.445,-0.432,-0.422,-0.415,-0.41,-0.406,-0.403,-0.4],
  [-0.5,-0.47,-0.45,-0.44,-0.43,-0.42,-0.42,-0.41,-0.4,-0.4]
];

// panel names: [text, isSubscript] runs
const panelNames = [
  [['K', 0], ['2', 1], ['SO', 0], ['4', 1]],
  [['KNO', 0], ['3', 1]],
  [['PSS', 0]],
  [['PAA', 0]],
  [['CMC', 0]],
  [['Pectin', 0]],
  [['HA', 0]],
  [['Gellan', 0]],
  [['Xanthan', 0]]
];

const panelCurves = [
  [k2so4FwdE, k2so4FwdI, k2so4RevE, k2so4RevI],
  [kno3FwdE, kno3FwdI, kno3RevE, kno3RevI],
  [pssFwdE, pssFwdI, pssRevE, pssRevI],
  [paaFwdE, paaFwdI, paaRevE, paaRevI],
  [cmcFwdE, cmcFwdI, cmcRevE, cmcRevI],
  [pectinFwdE, pectinFwdI, pectinRevE, pectinRevI],
  [haFwdE, haFwdI, haRevE, haRevI],
  [gellanFwdE, gellanFwdI, gellanRevE, gellanRevI],
  [xanFwdE, xanFwdI, xanRevE, xanRevI]
];

// axis ranges and layout (px)
const layout = [
  { left: 74,  top: 30,  width: 367, xMin: -1.25, xMax: 1.75, yMin: -0.4, yMax: 0.7,  yStep: 0.2, yDec: 1, yGap: 40, xGap: 28, lx: 91,  ly: 53 },
  { left: 509, top: 30,  width: 367, xMin: -1.25, xMax: 1.75, yMin: -7,   yMax: 6,    yStep: 2,   yDec: 0, yGap: 26, xGap: 28, lx: 526, ly: 51 },
  { left: 944, top: 30,  width: 367, xMin: -1.0,  xMax: 1.75, yMin: -1.0, yMax: 3.0,  yStep: 0.5, yDec: 1, yGap: 41, xGap: 28, lx: 957, ly: 52 },
  { left: 74,  top: 328, width: 367, xMin: -1.25, xMax: 1.75, yMin: -0.4, yMax: 0.45, yStep: 0.1, yDec: 1, yGap: 41, xGap: 29, lx: 89,  ly: 350 },
  { left: 510, top: 328, width: 367, xMin: -1.0,  xMax: 1.75, yMin: -1.5, yMax: 4.5,  yStep: 1,   yDec: 0, yGap: 23, xGap: 29, lx: 517, ly: 350 },
  { left: 944, top: 328, width: 366, xMin: -0.75, xMax: 1.75, yMin: -0.3, yMax: 0.25, yStep: 0.1, yDec: 1, yGap: 46, xGap: 29, lx: 962, ly: 351 },
  { left: 74,  top: 627, width: 366, xMin: -0.75, xMax: 1.75, yMin: -0.25, yMax: 0.3, yStep: 0.1, yDec: 1, yGap: 41, xGap: 32, lx: 89,  ly: 647 },
  { left: 510, top: 627, width: 367, xMin: -0.75, xMax: 1.75, yMin: -0.15, yMax: 0.27, yStep: 0.1, yDec: 1, yGap: 42, xGap: 32, lx: 523, ly: 650 },
  { left: 944, top: 627, width: 366, xMin: -0.75, xMax: 1.75, yMin: -0.6, yMax: 1.2,  yStep: 0.2, yDec: 1, yGap: 45, xGap: 32, lx: 956, ly: 650 }
];

// cycle annotations: text at (x, y-middle), arrow from (x1,y1) to head (x2,y2)
const cycleTexts = [
  ['1st cycle', 259, 105], ['10th cycle', 246, 173],
  ['1st cycle', 775, 22],  ['10th cycle', 691, 102],
  ['1st cycle', 1113, 135], ['10th cycle', 1187, 228],
  ['1st cycle', 312, 338], ['10th cycle', 272, 432],
  ['1st cycle', 647, 447], ['10th cycle', 765, 522],
  ['1st cycle', 1173, 338], ['10th cycle', 1139, 417],
  ['1st cycle', 273, 656], ['10th cycle', 300, 793],
  ['1st cycle', 708, 700], ['10th cycle', 750, 823],
  ['1st cycle', 1068, 695], ['10th cycle', 1100, 780]
];
const cycleArrows = [
  [237, 119, 255, 98], [257, 138, 268, 158],
  [760, 52, 778, 35], [705, 74, 715, 87],
  [1146, 167, 1153, 148], [1183, 163, 1218, 207],
  [315, 377, 340, 358], [261, 435, 254, 428],
  [669, 488, 678, 468], [778, 487, 793, 505],
  [1177, 365, 1193, 352], [1150, 393, 1165, 403],
  [293, 693, 305, 669], [315, 722, 343, 778],
  [700, 732, 717, 710], [732, 762, 752, 805],
  [1063, 742, 1080, 712], [1098, 752, 1110, 763]
];

const FONT = '"Liberation Serif", "Times New Roman", serif';
const INK = '#111';
const CURVE = '#626262';

function fmt(step, dec) {
  return function (v) {
    const r = v / step;
    if (Math.abs(r - Math.round(r)) > 1e-6) return '';
    if (Math.abs(v) < 1e-9) v = 0;
    return v.toFixed(dec);
  };
}

const axisCommon = {
  type: 'value',
  axisLine: { show: true, onZero: false, lineStyle: { color: INK, width: 1 } },
  axisTick: { show: true, inside: false, length: 5, lineStyle: { color: INK, width: 1 } },
  minorTick: { show: true, splitNumber: 2, length: 3, lineStyle: { color: INK, width: 1 } },
  splitLine: { show: false },
  minorSplitLine: { show: false },
  nameLocation: 'middle',
  nameTextStyle: { fontFamily: FONT, fontSize: 20, color: INK }
};

const grid = [], xAxis = [], yAxis = [], series = [];
layout.forEach((L, p) => {
  grid.push({ left: L.left, top: L.top, width: L.width, height: 250, containLabel: false });
  xAxis.push(Object.assign({}, axisCommon, {
    gridIndex: p, min: L.xMin, max: L.xMax, minInterval: 0.5, maxInterval: 0.5,
    name: 'E (V)', nameGap: L.xGap,
    axisLabel: { margin: 6, fontFamily: FONT, fontSize: 20, color: INK, formatter: fmt(0.5, 1) }
  }));
  yAxis.push(Object.assign({}, axisCommon, {
    gridIndex: p, min: L.yMin, max: L.yMax, minInterval: L.yStep, maxInterval: L.yStep,
    name: 'i (mA)', nameGap: L.yGap, nameRotate: 90,
    axisLabel: { margin: 7, fontFamily: FONT, fontSize: 20, color: INK, formatter: fmt(L.yStep, L.yDec) }
  }));
});

function curve(p, pts) {
  return {
    type: 'line', xAxisIndex: p, yAxisIndex: p, data: pts,
    showSymbol: false, symbol: 'none', smooth: 0.3, silent: true,
    lineStyle: { color: CURVE, width: 0.8 },
    z: 2
  };
}

panelCurves.forEach(([fe, fi, re, ri], p) => {
  for (let c = 0; c < 10; c++) {
    series.push(curve(p, fe.map((e, k) => [e, fi[k][c]])));
    series.push(curve(p, re.map((e, k) => [e, ri[k][c]])));
  }
});

// graphic annotations
const ctx = document.createElement('canvas').getContext('2d');
const graphic = [];
panelNames.forEach((runs, p) => {
  let x = layout[p].lx;
  const y = layout[p].ly;
  runs.forEach(([t, sub]) => {
    const size = sub ? 13 : 20;
    ctx.font = size + 'px ' + FONT;
    graphic.push({
      type: 'text', x: x, y: sub ? y + 8 : y, silent: true,
      style: { text: t, fill: INK, font: size + 'px ' + FONT, verticalAlign: 'middle', align: 'left' }
    });
    x += ctx.measureText(t).width + (sub ? 1 : 0);
  });
});
cycleTexts.forEach(([t, x, y]) => {
  graphic.push({
    type: 'text', x: x, y: y, silent: true,
    style: { text: t, fill: INK, font: '20px ' + FONT, verticalAlign: 'middle', align: 'left' }
  });
});
cycleArrows.forEach(([x1, y1, x2, y2]) => {
  const dx = x2 - x1, dy = y2 - y1, len = Math.hypot(dx, dy);
  const ux = dx / len, uy = dy / len, nx = -uy, ny = ux;
  const hl = 6, hw = 2.5;
  graphic.push({
    type: 'line', silent: true,
    shape: { x1: x1, y1: y1, x2: x2 - ux * hl * 0.6, y2: y2 - uy * hl * 0.6 },
    style: { stroke: '#333', lineWidth: 0.9 }
  });
  graphic.push({
    type: 'polygon', silent: true,
    shape: { points: [[x2, y2], [x2 - ux * hl + nx * hw, y2 - uy * hl + ny * hw], [x2 - ux * hl - nx * hw, y2 - uy * hl - ny * hw]] },
    style: { fill: '#222' }
  });
});

const chart = echarts.init(document.getElementById('chart'), null, { renderer: 'canvas' });
chart.setOption({
  backgroundColor: '#fff',
  animation: false,
  grid: grid,
  xAxis: xAxis,
  yAxis: yAxis,
  series: series,
  graphic: graphic
});
</script>
</body>
</html>
